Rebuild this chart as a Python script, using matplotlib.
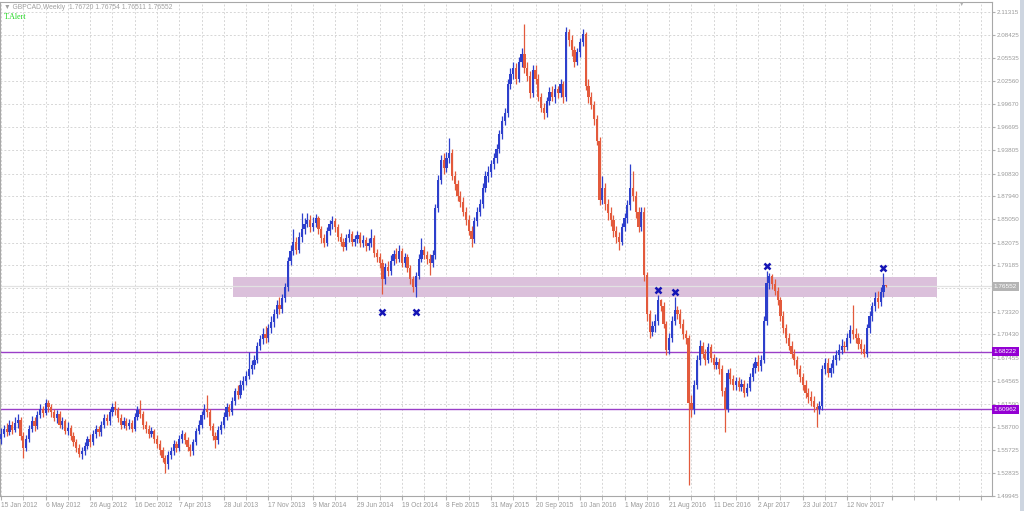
import matplotlib.pyplot as plt
import matplotlib.patches as mpatches
import numpy as np

plt.rcParams['font.family'] = ['Liberation Sans', 'DejaVu Sans']

# weekly GBPCAD bars (open of each week = previous close)
first_open = 1.572
closes = [
    1.578, 1.585, 1.580, 1.590, 1.583, 1.592, 1.596, 1.575, 1.560, 1.572,
    1.585, 1.595, 1.588, 1.602, 1.610, 1.605, 1.618, 1.612, 1.606, 1.598,
    1.604, 1.590, 1.594, 1.582, 1.586, 1.575, 1.568, 1.560, 1.553, 1.556,
    1.563, 1.572, 1.568, 1.578, 1.584, 1.580, 1.590, 1.598, 1.594, 1.606,
    1.612, 1.608, 1.598, 1.590, 1.594, 1.588, 1.592, 1.585, 1.600, 1.608,
    1.603, 1.590, 1.584, 1.578, 1.582, 1.572, 1.566, 1.558, 1.548, 1.540,
    1.552, 1.556, 1.565, 1.560, 1.572, 1.578, 1.570, 1.562, 1.556, 1.568,
    1.582, 1.590, 1.602, 1.610, 1.606, 1.588, 1.575, 1.570, 1.583, 1.590,
    1.600, 1.612, 1.606, 1.620, 1.632, 1.628, 1.640, 1.645, 1.652, 1.660,
    1.665, 1.672, 1.690, 1.698, 1.705, 1.700, 1.712, 1.720, 1.730, 1.742,
    1.736, 1.750, 1.764, 1.798, 1.810, 1.822, 1.812, 1.828, 1.838, 1.845,
    1.850, 1.840, 1.846, 1.852, 1.838, 1.826, 1.820, 1.835, 1.844, 1.848,
    1.840, 1.828, 1.822, 1.815, 1.826, 1.832, 1.822, 1.825, 1.830, 1.820,
    1.824, 1.816, 1.820, 1.826, 1.808, 1.802, 1.795, 1.775, 1.790, 1.785,
    1.798, 1.806, 1.800, 1.810, 1.795, 1.802, 1.788, 1.775, 1.765, 1.778,
    1.800, 1.812, 1.805, 1.800, 1.795, 1.805, 1.865, 1.900, 1.925, 1.915,
    1.928, 1.935, 1.905, 1.895, 1.880, 1.872, 1.860, 1.850, 1.835, 1.825,
    1.848, 1.860, 1.870, 1.890, 1.905, 1.910, 1.920, 1.928, 1.940, 1.958,
    1.975, 1.985, 2.022, 2.035, 2.042, 2.028, 2.050, 2.060, 2.042, 2.032,
    2.010, 2.040, 2.028, 2.005, 1.992, 1.985, 2.000, 2.012, 2.005, 2.015,
    2.010, 2.022, 2.005, 2.088, 2.078, 2.065, 2.050, 2.062, 2.075, 2.085,
    2.020, 2.005, 1.995, 1.978, 1.950, 1.875, 1.890, 1.870, 1.858, 1.850,
    1.835, 1.828, 1.822, 1.840, 1.852, 1.868, 1.890, 1.880, 1.860, 1.840,
    1.860, 1.780, 1.730, 1.708, 1.715, 1.722, 1.748, 1.740, 1.718, 1.685,
    1.700, 1.722, 1.735, 1.730, 1.718, 1.705, 1.700, 1.618, 1.610, 1.640,
    1.672, 1.690, 1.680, 1.672, 1.688, 1.675, 1.665, 1.670, 1.660, 1.632,
    1.610, 1.655, 1.648, 1.640, 1.645, 1.638, 1.642, 1.630, 1.637, 1.650,
    1.662, 1.670, 1.664, 1.672, 1.722, 1.770, 1.778, 1.768, 1.760, 1.748,
    1.728, 1.712, 1.700, 1.690, 1.680, 1.672, 1.660, 1.650, 1.640, 1.630,
    1.625, 1.620, 1.612, 1.610, 1.614, 1.660, 1.668, 1.656, 1.662, 1.672,
    1.678, 1.685, 1.690, 1.688, 1.700, 1.710, 1.705, 1.700, 1.692, 1.686,
    1.680, 1.712, 1.728, 1.740, 1.750, 1.745, 1.758, 1.7672, 1.76552,
]
highs = [
    1.586, 1.590, 1.592, 1.596, 1.595, 1.600, 1.604, 1.599, 1.580, 1.577,
    1.590, 1.601, 1.600, 1.607, 1.616, 1.614, 1.622, 1.621, 1.616, 1.610,
    1.608, 1.607, 1.600, 1.597, 1.593, 1.589, 1.580, 1.572, 1.565, 1.562,
    1.568, 1.576, 1.578, 1.583, 1.590, 1.588, 1.595, 1.603, 1.604, 1.610,
    1.617, 1.620, 1.612, 1.603, 1.599, 1.598, 1.597, 1.596, 1.605, 1.613,
    1.621, 1.607, 1.595, 1.589, 1.587, 1.585, 1.577, 1.570, 1.562, 1.552,
    1.557, 1.562, 1.570, 1.569, 1.577, 1.583, 1.581, 1.574, 1.566, 1.572,
    1.586, 1.596, 1.607, 1.616, 1.627, 1.610, 1.592, 1.580, 1.588, 1.595,
    1.606, 1.617, 1.616, 1.625, 1.637, 1.640, 1.646, 1.652, 1.658, 1.682,
    1.672, 1.678, 1.695, 1.704, 1.712, 1.715, 1.718, 1.728, 1.736, 1.748,
    1.752, 1.756, 1.770, 1.803, 1.818, 1.838, 1.828, 1.834, 1.858, 1.852,
    1.858, 1.856, 1.853, 1.857, 1.855, 1.842, 1.832, 1.840, 1.850, 1.854,
    1.852, 1.844, 1.833, 1.827, 1.832, 1.838, 1.836, 1.830, 1.836, 1.834,
    1.830, 1.828, 1.826, 1.838, 1.830, 1.813, 1.808, 1.800, 1.795, 1.798,
    1.805, 1.812, 1.814, 1.818, 1.814, 1.808, 1.806, 1.792, 1.779, 1.783,
    1.806, 1.826, 1.816, 1.810, 1.806, 1.812, 1.870, 1.906, 1.932, 1.935,
    1.936, 1.953, 1.940, 1.912, 1.900, 1.886, 1.878, 1.866, 1.856, 1.842,
    1.853, 1.866, 1.876, 1.896, 1.912, 1.918, 1.926, 1.935, 1.946, 1.964,
    1.981, 1.992, 2.028, 2.042, 2.050, 2.048, 2.056, 2.068, 2.098, 2.050,
    2.038, 2.046, 2.046, 2.034, 2.010, 1.998, 2.006, 2.018, 2.020, 2.022,
    2.020, 2.028, 2.026, 2.094, 2.092, 2.084, 2.070, 2.068, 2.080, 2.092,
    2.088, 2.028, 2.012, 2.000, 1.982, 1.955, 1.905, 1.896, 1.876, 1.866,
    1.856, 1.842, 1.834, 1.846, 1.858, 1.875, 1.920, 1.912, 1.886, 1.866,
    1.866, 1.866, 1.784, 1.735, 1.722, 1.730, 1.754, 1.749, 1.745, 1.722,
    1.706, 1.728, 1.752, 1.740, 1.736, 1.724, 1.710, 1.704, 1.628, 1.646,
    1.678, 1.697, 1.695, 1.686, 1.694, 1.692, 1.680, 1.676, 1.675, 1.665,
    1.638, 1.660, 1.662, 1.653, 1.650, 1.650, 1.648, 1.646, 1.643, 1.656,
    1.668, 1.676, 1.678, 1.678, 1.728, 1.785, 1.782, 1.781, 1.775, 1.765,
    1.752, 1.734, 1.718, 1.706, 1.696, 1.686, 1.677, 1.666, 1.656, 1.646,
    1.636, 1.632, 1.626, 1.618, 1.620, 1.666, 1.674, 1.674, 1.668, 1.678,
    1.684, 1.692, 1.698, 1.696, 1.706, 1.716, 1.742, 1.712, 1.706, 1.698,
    1.692, 1.718, 1.734, 1.746, 1.758, 1.760, 1.764, 1.782, 1.76754,
]
lows = [
    1.566, 1.574, 1.575, 1.577, 1.578, 1.580, 1.586, 1.570, 1.548, 1.556,
    1.568, 1.580, 1.582, 1.585, 1.598, 1.600, 1.602, 1.606, 1.600, 1.594,
    1.592, 1.586, 1.585, 1.578, 1.577, 1.570, 1.563, 1.555, 1.549, 1.547,
    1.551, 1.559, 1.562, 1.564, 1.573, 1.575, 1.576, 1.586, 1.589, 1.590,
    1.601, 1.602, 1.593, 1.585, 1.586, 1.583, 1.584, 1.581, 1.582, 1.596,
    1.598, 1.585, 1.579, 1.573, 1.574, 1.567, 1.560, 1.552, 1.542, 1.528,
    1.534, 1.546, 1.552, 1.555, 1.556, 1.567, 1.565, 1.557, 1.550, 1.552,
    1.564, 1.578, 1.586, 1.597, 1.600, 1.583, 1.570, 1.560, 1.566, 1.578,
    1.586, 1.596, 1.601, 1.602, 1.615, 1.622, 1.624, 1.634, 1.640, 1.648,
    1.654, 1.660, 1.668, 1.684, 1.692, 1.694, 1.695, 1.706, 1.714, 1.725,
    1.730, 1.731, 1.745, 1.760, 1.792, 1.805, 1.806, 1.808, 1.822, 1.832,
    1.840, 1.834, 1.835, 1.840, 1.832, 1.820, 1.815, 1.816, 1.830, 1.838,
    1.834, 1.823, 1.816, 1.810, 1.811, 1.821, 1.817, 1.816, 1.820, 1.815,
    1.815, 1.810, 1.811, 1.815, 1.803, 1.796, 1.788, 1.755, 1.768, 1.778,
    1.780, 1.792, 1.795, 1.796, 1.790, 1.790, 1.783, 1.768, 1.758, 1.752,
    1.774, 1.796, 1.800, 1.794, 1.780, 1.790, 1.800, 1.860, 1.895, 1.908,
    1.910, 1.922, 1.900, 1.888, 1.874, 1.866, 1.855, 1.843, 1.830, 1.815,
    1.820, 1.842, 1.854, 1.865, 1.885, 1.898, 1.904, 1.914, 1.922, 1.935,
    1.952, 1.970, 1.980, 2.015, 2.028, 2.022, 2.024, 2.044, 2.036, 2.026,
    2.004, 2.005, 2.022, 2.000, 1.986, 1.978, 1.980, 1.995, 2.000, 1.998,
    2.004, 2.005, 1.998, 2.000, 2.070, 2.058, 2.044, 2.046, 2.056, 2.070,
    2.014, 1.998, 1.990, 1.970, 1.944, 1.868, 1.870, 1.862, 1.850, 1.842,
    1.828, 1.820, 1.812, 1.818, 1.835, 1.846, 1.862, 1.874, 1.852, 1.834,
    1.835, 1.772, 1.722, 1.700, 1.702, 1.708, 1.716, 1.734, 1.712, 1.678,
    1.680, 1.695, 1.716, 1.724, 1.712, 1.698, 1.692, 1.513, 1.600, 1.604,
    1.635, 1.666, 1.674, 1.665, 1.668, 1.670, 1.660, 1.660, 1.654, 1.626,
    1.580, 1.606, 1.642, 1.634, 1.634, 1.632, 1.632, 1.625, 1.626, 1.632,
    1.645, 1.656, 1.658, 1.658, 1.668, 1.716, 1.762, 1.762, 1.754, 1.742,
    1.722, 1.706, 1.694, 1.684, 1.674, 1.666, 1.654, 1.644, 1.634, 1.624,
    1.618, 1.614, 1.606, 1.587, 1.604, 1.608, 1.654, 1.650, 1.650, 1.656,
    1.666, 1.672, 1.680, 1.682, 1.684, 1.694, 1.698, 1.694, 1.686, 1.680,
    1.676, 1.676, 1.706, 1.722, 1.734, 1.738, 1.740, 1.752, 1.76511,
]

date_labels = ['15 Jan 2012', '6 May 2012', '26 Aug 2012', '16 Dec 2012', '7 Apr 2013',
               '28 Jul 2013', '17 Nov 2013', '9 Mar 2014', '29 Jun 2014', '19 Oct 2014',
               '8 Feb 2015', '31 May 2015', '20 Sep 2015', '10 Jan 2016', '1 May 2016',
               '21 Aug 2016', '11 Dec 2016', '2 Apr 2017', '23 Jul 2017', '12 Nov 2017']
price_ticks = [2.11315, 2.08425, 2.05535, 2.02560, 1.99670, 1.96695, 1.93805, 1.90830,
               1.87940, 1.85050, 1.82075, 1.79185, 1.76295, 1.73320, 1.70430, 1.67455,
               1.64565, 1.61590, 1.58700, 1.55725, 1.52835, 1.49945]
# the 1.76295 label sits under the current price box, so it is not shown
hidden_ticks = [1.76295]

# swing points marked with crosses (bar index, price)
mark_bars = [137, 149, 236, 242, 275, 317]
mark_prices = [1.733, 1.733, 1.7605, 1.758, 1.7905, 1.789]

# support / resistance
zone_low, zone_high = 1.7518, 1.7772
zone_start, zone_end = 83.2, 336.2
levels = [1.68222, 1.60962]
last_price = 1.76552

up_col = '#2d3fcc'
dn_col = '#e35a3c'

c = np.array(closes)
o = np.array([first_open] + closes[:-1])
h = np.array(highs)
l = np.array(lows)
x = np.arange(len(c))
up = c >= o

fig = plt.figure(figsize=(10.24, 5.11), dpi=100)
ax = fig.add_axes([0, 15 / 511, 992 / 1024, 494 / 511])

ax.add_patch(mpatches.Rectangle((zone_start, zone_low), zone_end - zone_start,
                                zone_high - zone_low, facecolor='#dbc0db',
                                edgecolor='none', zorder=1))
ax.axhline(last_price, color='#e2e2e2', lw=0.9, zorder=1.5)
for lv in levels:
    ax.axhline(lv, color='#9a3fc8', lw=1.0, zorder=2)

body_lo = np.minimum(o, c)
body_h = np.maximum(np.abs(c - o), 0.0009)
for m, col in [(up, up_col), (~up, dn_col)]:
    ax.vlines(x[m], l[m], h[m], color=col, lw=0.9, zorder=3)
    ax.bar(x[m], body_h[m], bottom=body_lo[m], width=0.8, color=col,
           linewidth=0, zorder=3)

ax.plot(mark_bars, mark_prices, 'x', color='#1515b5', ms=4.5, mew=1.8, zorder=4)

ax.set_xlim(-0.4, 356.0)
ax.set_ylim(1.49945, 2.1259)

major = np.arange(0, 356, 16)
ax.set_xticks(major)
ax.set_xticklabels(date_labels + [''] * (len(major) - len(date_labels)),
                   ha='left', fontsize=4.8, color='#9a9a9a')
ax.set_xticks(np.arange(8, 356, 16), minor=True)
ax.tick_params(axis='x', which='both', length=3, color='#b0b0b0', pad=1.5)

ax.yaxis.tick_right()
ax.set_yticks(price_ticks)
ax.set_yticklabels(['' if p in hidden_ticks else '%.5f' % p for p in price_ticks],
                   fontsize=4.5, color='#9a9a9a')
ax.tick_params(axis='y', length=2, color='#b0b0b0', pad=1.2)

ax.set_axisbelow(True)
ax.grid(which='both', color='#d6d6d6', linestyle=(0, (2, 2)), lw=0.7)
for s in ax.spines.values():
    s.set_color('#a8a8a8')
    s.set_linewidth(0.8)

# price labels on the axis
yt = ax.get_yaxis_transform()
ax.text(1.002, last_price, '%.5f' % last_price, transform=yt, ha='left', va='center',
        fontsize=4.6, color='white', clip_on=False, zorder=10,
        bbox=dict(boxstyle='square,pad=0.3', fc='#b4b4b4', ec='none'))
for lv in levels:
    ax.text(1.002, lv, '%.5f' % lv, transform=yt, ha='left', va='center',
            fontsize=4.6, color='white', clip_on=False, zorder=10,
            bbox=dict(boxstyle='square,pad=0.3', fc='#9400d3', ec='none'))

fig.text(4 / 1024, 1 - 7 / 511, '\u25bc GBPCAD,Weekly  1.76720 1.76754 1.76511 1.76552',
         fontsize=4.9, color='#a0a0a0', va='center', ha='left')
fig.text(4 / 1024, 1 - 17 / 511, 'T.Alert', fontsize=5.8, color='#22d622',
         family=['Liberation Serif', 'DejaVu Serif'], va='center', ha='left')
fig.text(962 / 1024, 1 - 4 / 511, '\u25bc', fontsize=4, color='#b0b0b0',
         va='center', ha='center')
strip = mpatches.Rectangle((1020 / 1024, 0), 4 / 1024, 1, transform=fig.transFigure,
                           facecolor='#cdd5e0', edgecolor='none', zorder=-1)
fig.patches.append(strip)

fig.savefig('out.png', dpi=100)
